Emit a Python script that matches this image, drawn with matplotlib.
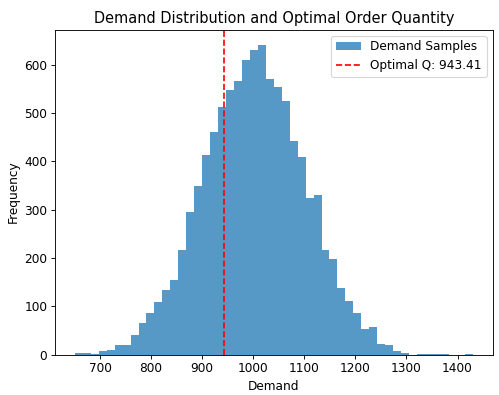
import matplotlib
matplotlib.use("Agg")
import matplotlib.pyplot as plt
import numpy as np

# histogram: 50 bins between the sample min and max
DEMAND_MIN = 650.8
DEMAND_MAX = 1429.8
counts = [
    4, 3, 1, 8, 10, 20, 20, 41, 66, 86,
    108, 134, 155, 216, 296, 350, 413, 460, 513, 548,
    566, 610, 631, 641, 571, 554, 524, 443, 410, 324,
    331, 217, 198, 137, 111, 85, 52, 58, 22, 19,
    8, 3, 0, 2, 2, 2, 2, 0, 0, 1,
]
optimal_q = 943.41

edges = np.linspace(DEMAND_MIN, DEMAND_MAX, len(counts) + 1)
centers = (edges[:-1] + edges[1:]) / 2

plt.rcParams["font.size"] = 10.9

fig = plt.figure(figsize=(499 / 80, 395 / 80), dpi=80)
ax = fig.add_axes([0.1102, 0.1025, 0.877, 0.8228])

ax.hist(centers, bins=edges, weights=counts, alpha=0.75, label="Demand Samples")
ax.axvline(optimal_q, color="red", linestyle="--", label=f"Optimal Q: {optimal_q:.2f}")

ax.set_title("Demand Distribution and Optimal Order Quantity", fontsize=13.1)
ax.set_xlabel("Demand")
ax.set_ylabel("Frequency")
ax.legend(loc="upper right")

fig.savefig("out.png", dpi=80)
